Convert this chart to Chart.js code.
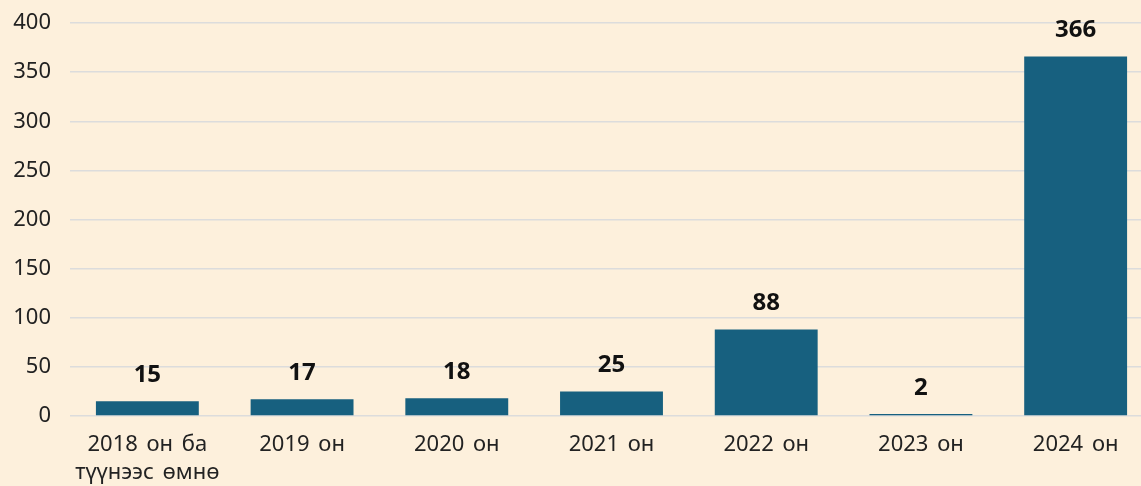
<!DOCTYPE html>
<html>
<head>
<meta charset="utf-8">
<script src="https://cdn.jsdelivr.net/npm/chart.js@4"></script>
<style>
  html, body { margin: 0; padding: 0; background: #fdf0dc; overflow: hidden; }
  #wrap { width: 1160px; height: 486px; }
</style>
</head>
<body>
<div id="wrap"><canvas id="chart_Years"></canvas></div>
<script>
var labels = [["2018 он ба", "түүнээс өмнө"], "2019 он", "2020 он", "2021 он", "2022 он", "2023 он", "2024 он"];
var counts = [15, 17, 18, 25, 88, 2, 366];
var yTicks = [0, 50, 100, 150, 200, 250, 300, 350, 400];

// wider gaps between words, like the original
var wideWords = {
  id: 'wideWords',
  beforeDraw: function (chart) {
    chart.ctx.wordSpacing = "3px";
  }
};

// draw numbers above the bars
var valueLabels = {
  id: 'valueLabels',
  afterDatasetsDraw: function (chart) {
    var ctx = chart.ctx;
    var meta = chart.getDatasetMeta(0);
    ctx.save();
    ctx.font = "bold 24px 'Noto Sans'";
    ctx.fillStyle = "#111";
    ctx.textAlign = "center";
    ctx.textBaseline = "bottom";
    for (var i = 0; i < meta.data.length; i++) {
      var bar = meta.data[i];
      ctx.fillText(counts[i], bar.x, bar.y - 14);
    }
    ctx.restore();
  }
};

new Chart(document.getElementById("chart_Years"), {
  type: 'bar',
  data: {
    labels: labels,
    datasets: [{
      data: counts,
      backgroundColor: "#17607f",
      borderWidth: 0,
      categoryPercentage: 1,
      barPercentage: 0.665
    }]
  },
  options: {
    responsive: true,
    maintainAspectRatio: false,
    animation: false,
    layout: { padding: { top: 23, right: 7, bottom: 0, left: 0 } },
    plugins: { legend: { display: false }, tooltip: { enabled: false } },
    scales: {
      x: {
        grid: { display: false, drawTicks: false },
        border: { display: false },
        afterFit: function (axis) { axis.height = 70; },
        ticks: {
          color: "#222",
          font: { family: "'Noto Sans'", size: 22, lineHeight: 1.27 },
          padding: 15,
          maxRotation: 0,
          autoSkip: false
        }
      },
      y: {
        min: 0,
        max: 400,
        afterBuildTicks: function (axis) {
          axis.ticks = yTicks.map(function (v) { return { value: v }; });
        },
        afterFit: function (axis) {
          axis.width = 70;
          axis.paddingTop = 0;
          axis.paddingBottom = 0;
        },
        grid: { color: "#dcdcdc", lineWidth: 1.5, drawTicks: false },
        border: { display: false },
        ticks: {
          color: "#222",
          font: { family: "'Noto Sans'", size: 22 },
          padding: 19
        }
      }
    }
  },
  plugins: [wideWords, valueLabels]
});
</script>
</body>
</html>
